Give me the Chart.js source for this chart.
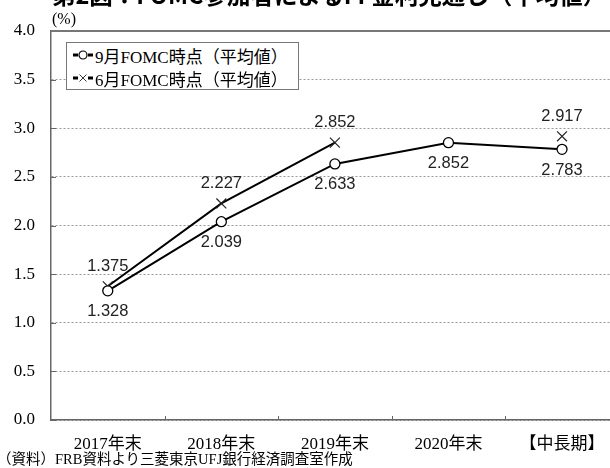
<!DOCTYPE html>
<html>
<head>
<meta charset="utf-8">
<script src="https://cdn.jsdelivr.net/npm/chart.js@4.4.1/dist/chart.umd.min.js"></script>
<style>
    body { margin: 0; width: 610px; height: 468px; overflow: hidden; background: #fff; position: relative; }
    #fomcChart { position: absolute; left: 0; top: 0; }
    .txt { position: absolute; white-space: nowrap; font-family: "Liberation Serif", "Noto Sans CJK JP", serif; color: #000; }
    #title { left: 52px; top: -17px; font-family: "Noto Sans CJK JP", sans-serif; font-weight: bold; font-size: 23.5px; line-height: 23px; }
    #unit { left: 52px; top: 10px; font-size: 16px; line-height: 18px; }
    #source { left: -3px; top: 451px; font-size: 14.5px; line-height: 17px; }
    #legend { position: absolute; left: 66px; top: 42px; width: 231px; height: 46px; border: 1px solid #777; background: #fff; }
    .legRow { position: absolute; left: 6px; height: 22px; display: flex; align-items: center; font-family: "Liberation Serif", "Noto Sans CJK JP", serif; font-size: 17px; white-space: nowrap; }
    .legRow svg { margin-right: 2px; }
</style>
</head>
<body>
<canvas id="fomcChart" width="627" height="468"></canvas>
<div id="title" class="txt">第2図：FOMC参加者によるFF金利見通し（平均値）</div>
<div id="unit" class="txt">(%)</div>
<div id="legend"></div>
<div id="source" class="txt">（資料）FRB資料より三菱東京UFJ銀行経済調査室作成</div>
<script>
// chart data
const categories = ['2017年末', '2018年末', '2019年末', '2020年末', '【中長期】'];
const septValues = [1.328, 2.039, 2.633, 2.852, 2.783];
const juneValues = [1.375, 2.227, 2.852, null, 2.917];
const seriesNames = ['9月FOMC時点（平均値）', '6月FOMC時点（平均値）'];
const yMin = 0;
const yMax = 4;
const yStep = 0.5;

// draws value labels, inside tick marks and the top frame line
const extrasPlugin = {
    id: 'extras',
    afterDatasetsDraw(chart) {
        const ctx = chart.ctx;
        ctx.save();
        ctx.font = '16.5px "Liberation Sans", Arial, sans-serif';
        ctx.fillStyle = '#222';
        ctx.textAlign = 'center';
        ctx.textBaseline = 'middle';
        chart.data.datasets.forEach((ds, di) => {
            const meta = chart.getDatasetMeta(di);
            meta.data.forEach((pt, i) => {
                if (ds.data[i] == null) return;
                const off = ds.labelBelow ? 21 : -20;
                ctx.fillText(ds.data[i].toFixed(3), pt.x, pt.y + off);
            });
        });
        ctx.restore();
    },
    afterDraw(chart) {
        const ctx = chart.ctx;
        const area = chart.chartArea;
        const xs = chart.scales.x;
        const ys = chart.scales.y;
        ctx.save();
        ctx.strokeStyle = '#666';
        ctx.lineWidth = 1;
        // y ticks, pointing into the plot
        ys.ticks.forEach(t => {
            const y = Math.round(ys.getPixelForValue(t.value)) + 0.5;
            ctx.beginPath();
            ctx.moveTo(area.left, y);
            ctx.lineTo(area.left + 5, y);
            ctx.stroke();
        });
        // x ticks between categories
        for (let i = 1; i < categories.length; i++) {
            const x = Math.round((xs.getPixelForValue(i - 1) + xs.getPixelForValue(i)) / 2) + 0.5;
            ctx.beginPath();
            ctx.moveTo(x, area.bottom);
            ctx.lineTo(x, area.bottom - 4);
            ctx.stroke();
        }
        // top frame line
        ctx.strokeStyle = '#777';
        ctx.lineWidth = 2;
        ctx.beginPath();
        ctx.moveTo(area.left, area.top);
        ctx.lineTo(area.right + 10, area.top);
        ctx.stroke();
        ctx.restore();
    }
};

const datasets = [
    {
        label: seriesNames[0],
        data: septValues,
        borderColor: '#000',
        borderWidth: 2,
        pointStyle: 'circle',
        pointRadius: 5,
        pointBorderWidth: 1.3,
        pointBackgroundColor: '#fff',
        pointBorderColor: '#000',
        labelBelow: true
    },
    {
        label: seriesNames[1],
        data: juneValues,
        borderColor: '#000',
        borderWidth: 2,
        pointStyle: 'crossRot',
        pointRadius: 7,
        pointBorderWidth: 1.2,
        pointBorderColor: '#222',
        spanGaps: false,
        labelBelow: false
    }
];

const serif = '"Liberation Serif", "Noto Sans CJK JP", serif';

const fomcChart = new Chart(document.getElementById('fomcChart'), {
    type: 'line',
    data: { labels: categories, datasets: datasets },
    options: {
        responsive: false,
        animation: false,
        events: [],
        layout: { padding: { top: 31, right: 0, left: 0, bottom: 0 } },
        plugins: { legend: { display: false }, tooltip: { enabled: false } },
        scales: {
            x: {
                offset: true,
                grid: { display: false },
                border: { display: true, color: '#666', width: 1.5 },
                ticks: { color: '#000', font: { family: serif, size: 17 }, padding: 6, maxRotation: 0, autoSkip: false },
                afterFit: (scale) => { scale.height = 48; }
            },
            y: {
                min: yMin,
                max: yMax,
                grid: { color: '#999', lineWidth: 1, drawTicks: false },
                border: { display: true, color: '#666', width: 1.5, dash: [2, 2] },
                ticks: {
                    stepSize: yStep,
                    color: '#000',
                    font: { family: serif, size: 17 },
                    padding: 16,
                    callback: v => v.toFixed(1)
                },
                afterFit: (scale) => { scale.width = 51; }
            }
        }
    },
    plugins: [extrasPlugin]
});

// legend box built from the datasets
function markerSvg(style) {
    let mark = '';
    if (style === 'circle') {
        mark = '<circle cx="10" cy="6" r="4" fill="#fff" stroke="#000" stroke-width="1.2"/>';
    } else {
        mark = '<path d="M6.5 2.5 L13.5 9.5 M13.5 2.5 L6.5 9.5" stroke="#333" stroke-width="1"/>';
    }
    return '<svg width="20" height="12"><line x1="0" y1="6" x2="5" y2="6" stroke="#000" stroke-width="3"/>' +
        '<line x1="15" y1="6" x2="20" y2="6" stroke="#000" stroke-width="3"/>' + mark + '</svg>';
}
let legendBox = document.getElementById('legend');
datasets.forEach((ds, i) => {
    const row = document.createElement('div');
    row.className = 'legRow';
    row.style.top = (1 + i * 23) + 'px';
    row.innerHTML = markerSvg(ds.pointStyle) + '<span>' + ds.label + '</span>';
    legendBox.appendChild(row);
});
</script>
</body>
</html>
